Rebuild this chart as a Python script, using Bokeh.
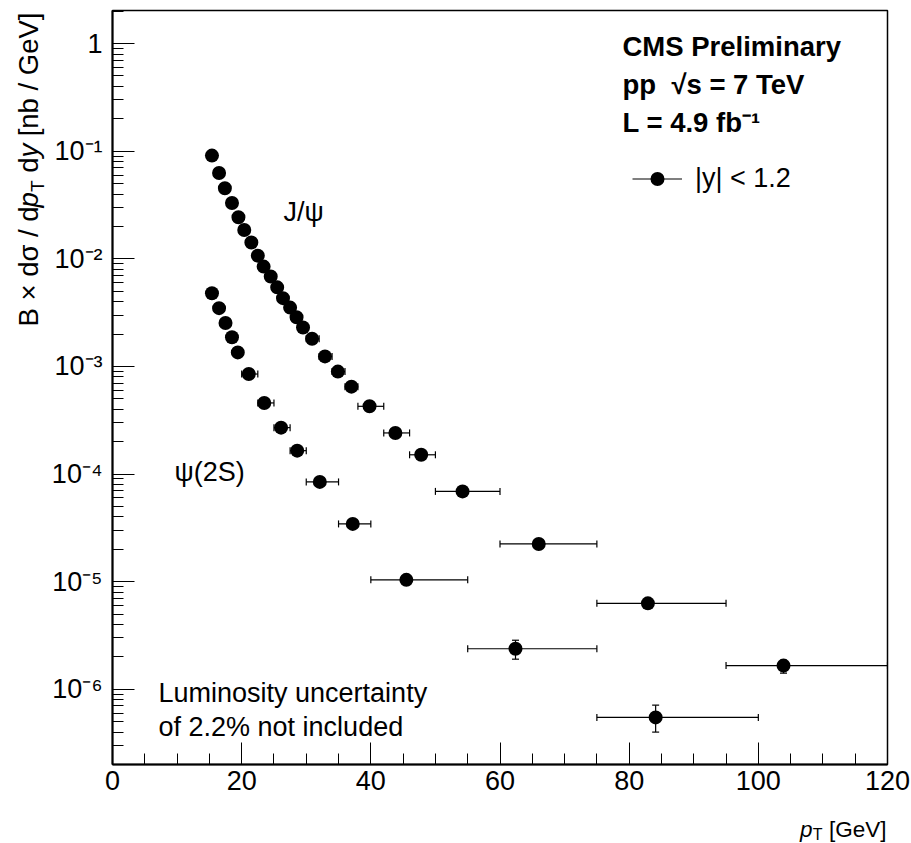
import math
from bokeh.plotting import figure
from bokeh.layouts import row, column
from bokeh.models import (ColumnDataSource, Whisker, TeeHead, FixedTicker, Label,
                          Legend, LegendItem)
from bokeh.embed import file_html
from bokeh.resources import INLINE

# ---------------- data ----------------
jpsi_pt = [15.4, 16.5, 17.4, 18.5, 19.5, 20.4, 21.5, 22.5, 23.4, 24.5,
           25.5, 26.4, 27.5, 28.5, 29.5, 30.9, 32.9, 34.9, 37.0, 39.8,
           43.8, 47.8, 54.2, 66.0, 82.9, 103.9]
jpsi_xsec = [0.091, 0.0628, 0.0452, 0.033, 0.0243, 0.0185, 0.0142, 0.0107, 0.00847, 0.00684,
             0.00543, 0.00431, 0.00352, 0.00286, 0.00230, 0.00181, 0.00124, 0.000895, 0.000649, 0.000426,
             0.000241, 0.000151, 6.9e-5, 2.24e-5, 6.29e-6, 1.66e-6]
jpsi_bin_lo = [15, 16, 17, 18, 19, 20, 21, 22, 23, 24, 25, 26, 27, 28, 29,
               30, 32, 34, 36, 38, 42, 46, 50, 60, 75, 95]
jpsi_bin_hi = [16, 17, 18, 19, 20, 21, 22, 23, 24, 25, 26, 27, 28, 29, 30,
               32, 34, 36, 38, 42, 46, 50, 60, 75, 95, 120]
jpsi_err_dn = [0.03] * 22 + [0.05, 0.06, 0.08, 0.15]
jpsi_err_up = [0.03] * 22 + [0.05, 0.06, 0.08, 0.12]

psi2s_pt = [15.4, 16.5, 17.5, 18.5, 19.4, 21.1, 23.5, 26.1, 28.6, 32.1, 37.2, 45.5, 62.4, 84.1]
psi2s_xsec = [4.78e-3, 3.48e-3, 2.53e-3, 1.87e-3, 1.35e-3, 8.5e-4, 4.58e-4, 2.70e-4,
              1.65e-4, 8.45e-5, 3.44e-5, 1.04e-5, 2.38e-6, 5.48e-7]
psi2s_bin_lo = [15, 16, 17, 18, 19, 20, 22.5, 25, 27.5, 30, 35, 40, 55, 75]
psi2s_bin_hi = [16, 17, 18, 19, 20, 22.5, 25, 27.5, 30, 35, 40, 55, 75, 100]
psi2s_err_dn = [0.03] * 11 + [0.08, 0.20, 0.27]
psi2s_err_up = [0.03] * 11 + [0.08, 0.20, 0.30]

x_ticks = [0, 20, 40, 60, 80, 100, 120]
x_minor_ticks = [5, 10, 15, 25, 30, 35, 45, 50, 55, 65, 70, 75, 85, 90, 95, 105, 110, 115]
y_ticks = [1e-6, 1e-5, 1e-4, 1e-3, 1e-2, 1e-1, 1]
y_tick_labels = ["10\u207b\u2076", "10\u207b\u2075", "10\u207b\u2074", "10\u207b\u00b3",
                 "10\u207b\u00b2", "10\u207b\u00b9", "1"]

legend_label = "|y| < 1.2"
FONT = "Liberation Sans"
NB = "\u00a0"

# ---------------- main figure ----------------
p = figure(width=863, height=804, title=None, toolbar_location=None, output_backend="svg",
           x_range=(0, 120), y_range=(2.0e-7, 2.03), y_axis_type="log",
           min_border_left=64, min_border_right=24, min_border_top=10, min_border_bottom=40)
p.xgrid.visible = False
p.ygrid.visible = False
p.outline_line_color = "black"
p.outline_line_width = 1.5
p.background_fill_color = "white"
p.border_fill_color = "white"

for ax in (p.xaxis[0], p.yaxis[0]):
    ax.axis_line_width = 2
    ax.axis_line_color = "black"
    ax.major_tick_in = 22
    ax.major_tick_out = 0
    ax.minor_tick_in = 11
    ax.minor_tick_out = 0
    ax.major_tick_line_color = "black"
    ax.minor_tick_line_color = "black"
    ax.major_label_text_font = FONT
    ax.major_label_text_font_size = "27px"
    ax.major_label_text_color = "black"

p.xaxis.ticker = FixedTicker(ticks=x_ticks, minor_ticks=x_minor_ticks)
p.xaxis.major_label_standoff = 6

y_minor = [k * 10.0 ** e for e in range(-7, 1) for k in range(2, 10)]
p.yaxis.ticker = FixedTicker(ticks=y_ticks, minor_ticks=y_minor)
p.yaxis.major_label_overrides = dict(zip(y_ticks, y_tick_labels))
p.yaxis.major_label_standoff = 10


def add_series(pt, xs, lo, hi, edn, eup):
    src = ColumnDataSource(dict(
        x=pt, y=xs, xlo=lo, xhi=hi,
        ylo=[v * (1 - d) for v, d in zip(xs, edn)],
        yhi=[v * (1 + u) for v, u in zip(xs, eup)],
    ))
    for base, lo_c, hi_c, dim in (("y", "xlo", "xhi", "width"), ("x", "ylo", "yhi", "height")):
        p.add_layout(Whisker(source=src, base=base, lower=lo_c, upper=hi_c, dimension=dim,
                             line_color="black", line_width=1.2,
                             lower_head=TeeHead(size=7, line_color="black", line_width=1.2),
                             upper_head=TeeHead(size=7, line_color="black", line_width=1.2)))
    r = p.scatter("x", "y", source=src, size=14, marker="circle",
                  fill_color="black", line_color="black", line_width=0)
    return src, r


jpsi_src, r_jpsi = add_series(jpsi_pt, jpsi_xsec, jpsi_bin_lo, jpsi_bin_hi, jpsi_err_dn, jpsi_err_up)
psi2s_src, r_psi2s = add_series(psi2s_pt, psi2s_xsec, psi2s_bin_lo, psi2s_bin_hi, psi2s_err_dn, psi2s_err_up)

# legend (horizontal error-bar line + marker), line renderer hidden in the plot
leg_line = p.line("x", "y", source=jpsi_src, line_color="black", line_width=1.2, visible=False)
legend = Legend(items=[LegendItem(label=legend_label, renderers=[leg_line, r_jpsi])],
                location=(520, 568), glyph_width=50, glyph_height=35,
                label_text_font=FONT, label_text_font_size="27px", label_text_color="black",
                label_standoff=13, padding=0, margin=0, border_line_alpha=0,
                background_fill_alpha=0, inactive_fill_alpha=0)
p.add_layout(legend)


def lab(fig, text, sx, sy, size="27px", style="normal", align="left", angle=0.0):
    fig.add_layout(Label(x=sx, y=sy, x_units="screen", y_units="screen", text=text,
                         text_font=FONT, text_font_size=size, text_font_style=style,
                         text_align=align, text_baseline="alphabetic", angle=angle,
                         text_color="black"))


# header texts (frame-relative screen coordinates)
lab(p, "CMS Preliminary", 510, 718, size="27.5px", style="bold")
lab(p, "pp" + NB + NB + "\u221as = 7 TeV", 510, 680, size="27.5px", style="bold")
lab(p, "L = 4.9 fb\u207b\u00b9", 510, 642, size="27.5px", style="bold")

lab(p, "J/\u03c8", 171, 553)
lab(p, "\u03c8(2S)", 62, 293)
lab(p, "Luminosity uncertainty", 46, 72)
lab(p, "of 2.2% not included", 46, 38)

# ---------------- y-axis title strip (left); its frame is aligned with the main frame ----------------
left = figure(width=48, height=804, title=None, toolbar_location=None, output_backend="svg",
              x_range=(0, 48), y_range=(0, 754), x_axis_location=None, y_axis_location=None,
              min_border_left=0, min_border_right=0, min_border_top=10, min_border_bottom=40)
left.grid.visible = False
left.outline_line_color = None
left.border_fill_color = "white"
left.background_fill_color = "white"

A = math.pi / 2
bx, by = 28, 438
lab(left, "B \u00d7 d\u03c3 / d", bx, by, size="27.5px", angle=A)
lab(left, "p", bx, by + 119, size="27.5px", style="italic", angle=A)
lab(left, "T", bx + 9, by + 134.5, size="19px", angle=A)
lab(left, NB + "d", bx, by + 146, size="27.5px", angle=A)
lab(left, "y", bx, by + 169, size="27.5px", style="italic", angle=A)
lab(left, NB + "[nb / GeV]", bx, by + 182.5, size="27.5px", angle=A)

# ---------------- x-axis title strip (bottom) ----------------
bottom = figure(width=911, height=39, title=None, toolbar_location=None, output_backend="svg",
                x_range=(0, 911), y_range=(0, 39), x_axis_location=None, y_axis_location=None,
                min_border=0)
bottom.grid.visible = False
bottom.outline_line_color = None
bottom.border_fill_color = "white"
bottom.background_fill_color = "white"

lab(bottom, NB + "[GeV]", 886, 14, size="22.5px", align="right")
lab(bottom, "T", 822, 9, size="16px", align="right")
lab(bottom, "p", 812, 14, size="22.5px", style="italic", align="right")

layout = column(row(left, p, spacing=0), bottom, spacing=0)
open("out.html", "w").write(file_html(layout, INLINE))
